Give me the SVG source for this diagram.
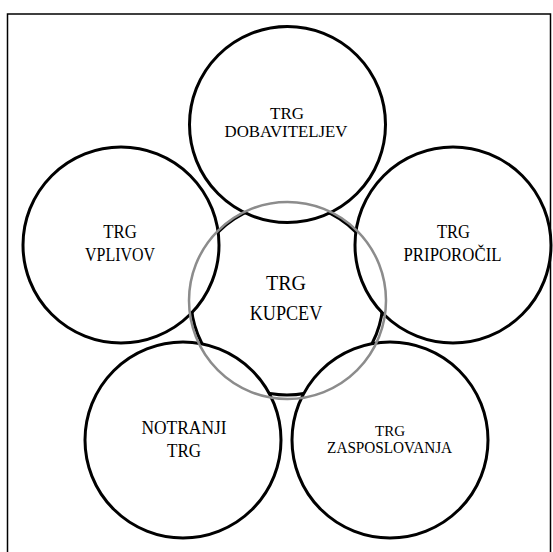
<svg xmlns="http://www.w3.org/2000/svg" width="553" height="552" viewBox="0 0 553 552">
  <style>
    .ring { fill: #ffffff; stroke: #000000; stroke-width: 3; }
    .hub { fill: none; stroke: #000000; stroke-width: 3; }
    .halo { fill: none; stroke: #8c8c8c; stroke-width: 2.5; }
    .lbl { font-family: "Liberation Serif", "Times New Roman", serif; fill: #000000; text-anchor: middle; }
  </style>
  <rect width="553" height="552" fill="#ffffff"/>
  <!-- outer frame -->
  <rect x="7.5" y="14" width="543" height="545" fill="none" stroke="#000000" stroke-width="1.5"/>

  <!-- central market outline, mostly covered by the surrounding circles -->
  <g id="kupcev-outline">
    <circle class="hub" cx="287" cy="299" r="96"/>
  </g>

  <g id="dobaviteljev">
    <circle class="ring" cx="287.5" cy="124.5" r="98"/>
    <text class="lbl" x="287" y="119" font-size="16" textLength="34" lengthAdjust="spacingAndGlyphs">TRG</text>
    <text class="lbl" x="286" y="137" font-size="17" textLength="123" lengthAdjust="spacingAndGlyphs">DOBAVITELJEV</text>
  </g>

  <g id="vplivov">
    <circle class="ring" cx="121" cy="245" r="98"/>
    <text class="lbl" x="120" y="238" font-size="18" textLength="33.5" lengthAdjust="spacingAndGlyphs">TRG</text>
    <text class="lbl" x="120" y="261" font-size="18" textLength="70" lengthAdjust="spacingAndGlyphs">VPLIVOV</text>
  </g>

  <g id="priporocil">
    <circle class="ring" cx="453" cy="245" r="98"/>
    <text class="lbl" x="453.5" y="238" font-size="18" textLength="33" lengthAdjust="spacingAndGlyphs">TRG</text>
    <text class="lbl" x="452.5" y="261" font-size="18" textLength="98" lengthAdjust="spacingAndGlyphs">PRIPOROČIL</text>
  </g>

  <g id="notranji">
    <circle class="ring" cx="183" cy="440" r="98"/>
    <text class="lbl" x="184" y="434" font-size="18" textLength="85" lengthAdjust="spacingAndGlyphs">NOTRANJI</text>
    <text class="lbl" x="184" y="457" font-size="18" textLength="34" lengthAdjust="spacingAndGlyphs">TRG</text>
  </g>

  <g id="zasposlovanja">
    <circle class="ring" cx="390" cy="440" r="98"/>
    <text class="lbl" x="390" y="436" font-size="15" textLength="30" lengthAdjust="spacingAndGlyphs">TRG</text>
    <text class="lbl" x="389.6" y="453" font-size="16" textLength="125" lengthAdjust="spacingAndGlyphs">ZASPOSLOVANJA</text>
  </g>

  <g id="kupcev">
    <circle class="halo" cx="287.5" cy="300.5" r="98.5"/>
    <text class="lbl" x="286" y="290" font-size="20" textLength="40" lengthAdjust="spacingAndGlyphs">TRG</text>
    <text class="lbl" x="286" y="320" font-size="20" textLength="72.6" lengthAdjust="spacingAndGlyphs">KUPCEV</text>
  </g>
</svg>
